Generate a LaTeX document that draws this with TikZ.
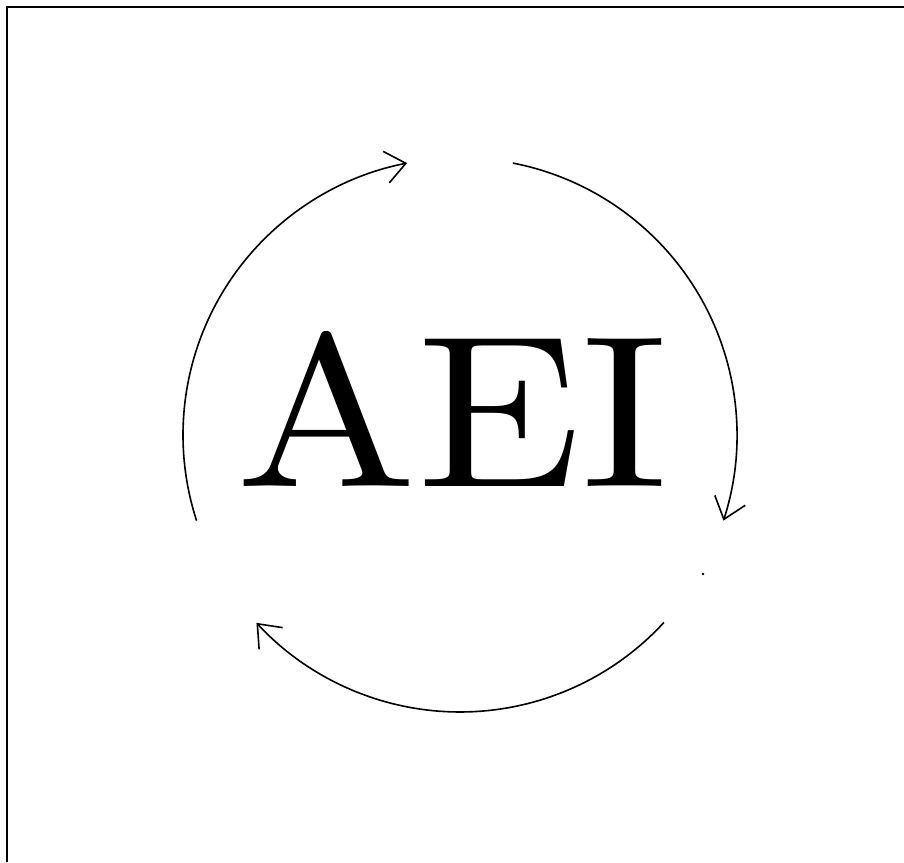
\documentclass[tikz,border=0pt]{standalone}
\usetikzlibrary{arrows.meta}
\begin{document}
\begin{tikzpicture}[x=1pt,y=1pt,
  cyc/.style={line width=1.6pt,-{Straight Barb[length=20pt,width=32pt,line width=1.6pt]}},
  frameline/.style={line width=2.5pt}]
\useasboundingbox (0,0) rectangle (904,862);
\coordinate (C) at (460,427);
\draw[frameline] (7,0) -- (7,855) -- (904,855);
\node[inner sep=0pt,anchor=south] (T) at (452.5,375) {\resizebox{431pt}{155pt}{AEI}};
\draw[cyc] (C) ++(198:277) arc[start angle=198,end angle=101,radius=277];
\draw[cyc] (C) ++(79:277) arc[start angle=79,end angle=-18,radius=277];
\draw[cyc] (C) ++(-42.6:277) arc[start angle=-42.6,end angle=-137.3,radius=277];
\fill (703,288) circle[radius=1.4pt];
\end{tikzpicture}
\end{document}
